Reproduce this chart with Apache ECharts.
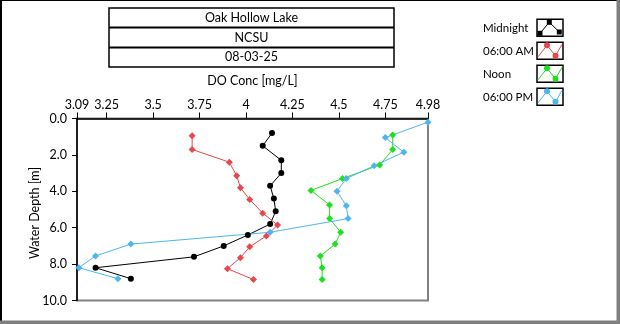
<!DOCTYPE html>
<html><head><meta charset="utf-8">
<script src="https://cdn.jsdelivr.net/npm/echarts@6/dist/echarts.min.js"></script>
<style>html,body{margin:0;padding:0;background:#fff}#c{width:620px;height:324px}</style>
</head><body><div id="c"></div>
<script>
const titleLines = ['Oak Hollow Lake', 'NCSU', '08-03-25'];
const seriesNames = ['Midnight', '06:00 AM', 'Noon', '06:00 PM'];
const seriesColors = ['#000000', '#E8474B', '#1EE01E', '#4DB6F0'];
const xTicks = [3.09, 3.25, 3.5, 3.75, 4, 4.25, 4.5, 4.75, 4.98];
const yTicks = [0, 2, 4, 6, 8, 10];

const depthMidnight = [0.8, 1.5, 2.3, 3.0, 3.7, 4.4, 5.1, 5.8, 6.4, 7.0, 7.6, 8.2, 8.8];
const doMidnight    = [4.14, 4.09, 4.19, 4.19, 4.13, 4.15, 4.16, 4.13, 4.01, 3.88, 3.72, 3.19, 3.38];
const depth6am = [0.95, 1.7, 2.4, 3.15, 3.8, 4.45, 5.2, 5.85, 6.45, 7.05, 7.65, 8.25, 8.85];
const do6am    = [3.71, 3.71, 3.91, 3.95, 3.97, 4.02, 4.09, 4.17, 4.11, 4.02, 3.97, 3.90, 4.04];
const depthNoon = [0.9, 1.7, 2.55, 3.3, 3.95, 4.75, 5.5, 6.25, 6.9, 7.55, 8.2, 8.85];
const doNoon    = [4.79, 4.79, 4.72, 4.52, 4.35, 4.45, 4.45, 4.51, 4.48, 4.40, 4.41, 4.41];
const depth6pm = [0.2, 1.05, 1.85, 2.6, 3.3, 4.0, 4.8, 5.5, 6.25, 6.9, 7.55, 8.2, 8.8];
const do6pm    = [4.98, 4.75, 4.85, 4.69, 4.54, 4.49, 4.54, 4.55, 4.13, 3.38, 3.19, 3.10, 3.31];

const FONT = 'Lato';
const pairs = (xs, ys) => xs.map((x, i) => [x, ys[i]]);
const allData = [
  pairs(doMidnight, depthMidnight),
  pairs(do6am, depth6am),
  pairs(doNoon, depthNoon),
  pairs(do6pm, depth6pm)
];

const chart = echarts.init(document.getElementById('c'), null, {renderer: 'canvas'});

const graphics = [];
// outer frame
graphics.push({type:'line', shape:{x1:0,y1:0.5,x2:620,y2:0.5}, style:{stroke:'#000',lineWidth:1}});
graphics.push({type:'line', shape:{x1:1,y1:0,x2:1,y2:324}, style:{stroke:'#000',lineWidth:2}});
graphics.push({type:'rect', shape:{x:616.5,y:0,width:3.5,height:324}, style:{fill:'#808080'}});
graphics.push({type:'rect', shape:{x:0,y:320.5,width:620,height:3.5}, style:{fill:'#808080'}});
// title box
const tbX = 109, tbY = 8, tbW = 285, rowH = [0, 19.5, 39.5, 59];
graphics.push({type:'rect', shape:{x:tbX,y:tbY,width:tbW,height:rowH[3]}, style:{fill:'none',stroke:'#000',lineWidth:1.5}});
graphics.push({type:'line', shape:{x1:tbX,y1:tbY+rowH[1],x2:tbX+tbW,y2:tbY+rowH[1]}, style:{stroke:'#000',lineWidth:2}});
graphics.push({type:'line', shape:{x1:tbX,y1:tbY+rowH[2],x2:tbX+tbW,y2:tbY+rowH[2]}, style:{stroke:'#000',lineWidth:2}});
titleLines.forEach((t, i) => {
  graphics.push({type:'text', x: tbX + tbW/2, y: tbY + (rowH[i] + rowH[i+1]) / 2,
    style:{text:t, fill:'#000', font:'12.5px "' + FONT + '"', textAlign:'center', textVerticalAlign:'middle'}});
});
// y axis name
graphics.push({type:'text', x: 35, y: 213, rotation: Math.PI/2,
  style:{text:'Water Depth [m]', fill:'#000', font:'12.5px "' + FONT + '"', textAlign:'center', textVerticalAlign:'middle'}});
// legend
const lgTextX = 483, lgBoxX = 537, lgBoxW = 26, lgBoxH = 17;
const lgTops = [19.3, 42.3, 65.3, 88.3];
seriesNames.forEach((n, i) => {
  const top = lgTops[i];
  graphics.push({type:'text', x: lgTextX, y: top + lgBoxH/2,
    style:{text:n, fill:'#000', font:'11.5px "' + FONT + '"', textAlign:'left', textVerticalAlign:'middle'}});
  graphics.push({type:'rect', shape:{x:lgBoxX, y:top, width:lgBoxW, height:lgBoxH},
    style:{fill:'#fff', stroke:'#000', lineWidth:1.5}});
  let pts, marks;
  if (i === 0) {
    pts = [[3,14],[12.3,3],[22.3,12.7]];
    marks = pts;
  } else {
    pts = [[1,14.5],[10,3],[18.5,13.5],[25,2]];
    marks = [[10,3],[18.5,13.5]];
  }
  graphics.push({type:'polyline', shape:{points: pts.map(p => [lgBoxX + p[0], top + p[1]])},
    style:{stroke: seriesColors[i], lineWidth:1, fill:'none'}});
  marks.forEach(p => {
    if (i === 0) {
      graphics.push({type:'rect', shape:{x:lgBoxX+p[0]-2.5, y:top+p[1]-2.5, width:5, height:5}, style:{fill:'#000'}});
    } else {
      graphics.push({type:'circle', shape:{cx:lgBoxX+p[0], cy:top+p[1], r:3}, style:{fill:seriesColors[i]}});
    }
  });
});

const option = {
  animation: false,
  backgroundColor: '#fff',
  textStyle: {fontFamily: FONT},
  grid: {left: 77, right: 192, top: 118.5, bottom: 23.5, show: true, borderColor: '#808080', borderWidth: 2, backgroundColor: '#fff'},
  xAxis: {
    type: 'value', position: 'top', min: 3.09, max: 4.98,
    name: 'DO Conc [mg/L]', nameLocation: 'middle', nameGap: 31,
    nameTextStyle: {color: '#000', fontSize: 12.5, fontFamily: FONT},
    axisLine: {show: true, lineStyle: {color: '#000', width: 1.5}},
    axisTick: {show: true, length: 6, customValues: xTicks, lineStyle: {color: '#000', width: 1}},
    axisLabel: {customValues: xTicks, color: '#000', fontSize: 12.5, fontFamily: FONT, margin: 7,
      formatter: v => String(v)},
    splitLine: {show: false}
  },
  yAxis: {
    type: 'value', inverse: true, min: 0, max: 10, interval: 2,
    axisLine: {show: true, lineStyle: {color: '#000', width: 1.5}},
    axisTick: {show: true, length: 5, lineStyle: {color: '#000', width: 1}},
    axisLabel: {color: '#000', fontSize: 12.5, fontFamily: FONT, margin: 10,
      formatter: v => v.toFixed(1)},
    splitLine: {show: false}
  },
  series: allData.map((d, i) => ({
    name: seriesNames[i], type: 'line', data: d,
    symbol: i === 0 ? 'circle' : 'diamond', symbolSize: i === 0 ? 6 : 7,
    showSymbol: true, clip: false,
    lineStyle: {color: seriesColors[i], width: 1},
    itemStyle: {color: seriesColors[i]},
    z: 3
  })),
  graphic: graphics
};
chart.setOption(option);
</script>
</body></html>
